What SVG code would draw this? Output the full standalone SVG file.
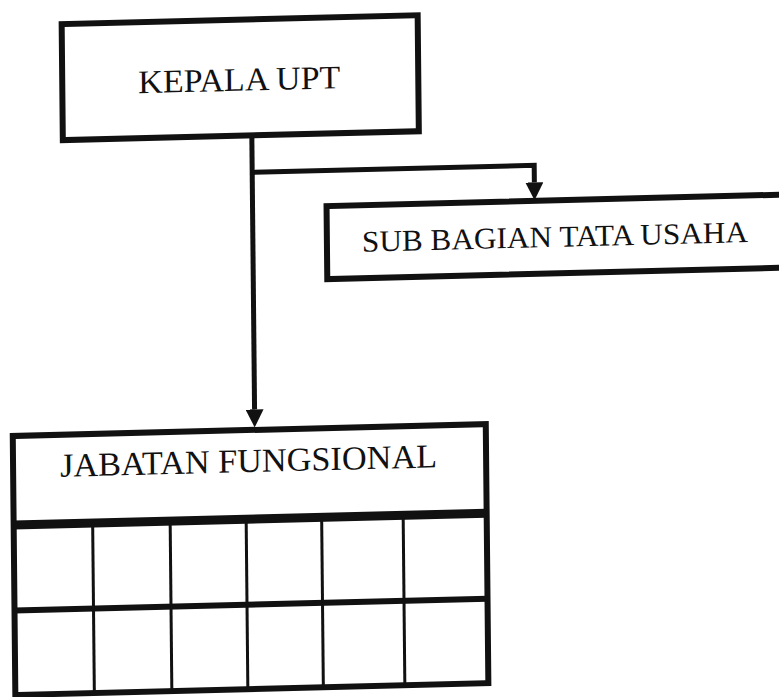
<svg xmlns="http://www.w3.org/2000/svg" width="779" height="697" viewBox="0 0 779 697">
  <style>
    .box { fill: #ffffff; stroke: #111111; stroke-width: 6; }
    .lbl { font-family: "Liberation Serif", "DejaVu Serif", serif; fill: #111111; text-anchor: middle; }
    .conn { fill: none; stroke: #111111; stroke-width: 5; }
    .thick { stroke: #111111; stroke-width: 9; }
    .mid { stroke: #111111; stroke-width: 6; }
    .thin { stroke: #111111; stroke-width: 3; }
  </style>
  <defs>
    <marker id="arrow" viewBox="0 0 18 18" markerWidth="18" markerHeight="18" refX="0" refY="9" orient="auto" markerUnits="userSpaceOnUse">
      <path d="M0,0 L18,9 L0,18 z" fill="#111111"/>
    </marker>
  </defs>
  <rect x="0" y="0" width="779" height="697" fill="#ffffff"/>
  <g transform="matrix(1,-0.025,0.01,1,-3.5,9.75)">
    <g id="connectors">
      <path class="conn" d="M254,132 V406" marker-end="url(#arrow)"/>
      <path class="conn" d="M254,169 H536 V186" marker-end="url(#arrow)"/>
    </g>
    <g id="node-kepala-upt">
      <rect class="box" x="65" y="16" width="356" height="116"/>
      <text class="lbl" x="242" y="87" font-size="33" textLength="202" lengthAdjust="spacingAndGlyphs">KEPALA UPT</text>
    </g>
    <g id="node-sub-bagian-tata-usaha">
      <rect class="box" x="328" y="204.5" width="470" height="73"/>
      <text class="lbl" x="556" y="251" font-size="30" textLength="386" lengthAdjust="spacingAndGlyphs">SUB BAGIAN TATA USAHA</text>
    </g>
    <g id="node-jabatan-fungsional">
      <rect class="box" x="12" y="426.5" width="473" height="259"/>
      <text class="lbl" x="247.5" y="468.5" font-size="33.5" textLength="377" lengthAdjust="spacingAndGlyphs">JABATAN FUNGSIONAL</text>
      <line class="thick" x1="12" y1="515.5" x2="485" y2="515.5"/>
      <line class="mid" x1="12" y1="601" x2="485" y2="601"/>
      <line class="thin" x1="91" y1="515.5" x2="91" y2="685.5"/>
      <line class="thin" x1="168.5" y1="515.5" x2="168.5" y2="685.5"/>
      <line class="thin" x1="244.5" y1="515.5" x2="244.5" y2="685.5"/>
      <line class="thin" x1="320" y1="515.5" x2="320" y2="685.5"/>
      <line class="thin" x1="401.5" y1="515.5" x2="401.5" y2="685.5"/>
    </g>
  </g>
</svg>
